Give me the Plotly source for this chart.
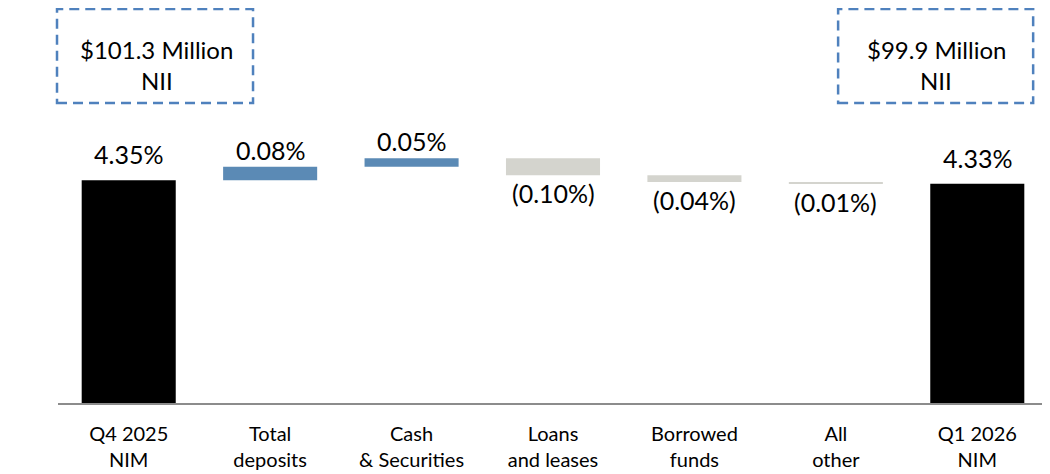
import plotly.graph_objects as go

# NIM bridge, Q4 2025 -> Q1 2026 (values in %)
categories = ["Q4 2025<br>NIM", "Total<br>deposits", "Cash<br>& Securities",
              "Loans<br>and leases", "Borrowed<br>funds", "All<br>other", "Q1 2026<br>NIM"]
measures = ["absolute", "relative", "relative", "relative", "relative", "relative", "total"]
values = [4.35, 0.08, 0.05, -0.10, -0.04, -0.01, 0]
start_nii = "$101.3 Million"
end_nii = "$99.9 Million"

FONT = "Lato"
BLUE = "#5B8AB5"
GREY = "#D4D4CE"
BOX = "#4F81BD"

fig = go.Figure(go.Waterfall(
    x=categories,
    y=values,
    measure=measures,
    increasing=dict(marker=dict(color=BLUE)),
    decreasing=dict(marker=dict(color=GREY)),
    totals=dict(marker=dict(color="black")),
    connector=dict(visible=False),
    textposition="none",
    hoverinfo="skip",
))

# value labels: above rising / total bars, below falling ones
level = 0.0
for cat, m, v in zip(categories, measures, values):
    if m == "absolute":
        level = v
        val, top, anchor, shift = v, v, "bottom", 10
    elif m == "total":
        val, top, anchor, shift = level, level, "bottom", 10
    else:
        level = level + v
        if v >= 0:
            val, top, anchor, shift = v, level, "bottom", 1
        else:
            val, top, anchor, shift = v, level, "top", -2
    txt = f"{val:.2f}%" if val >= 0 else f"({abs(val):.2f}%)"
    fig.add_annotation(x=cat, y=top, text=txt, showarrow=False, yanchor=anchor,
                       yshift=shift, borderpad=0, font=dict(size=25, color="black", family=FONT))

# dashed NII boxes
for x0, x1, xc, label in [(-0.001, 0.197, 0.0995, start_nii), (0.788, 0.985, 0.887, end_nii)]:
    fig.add_shape(type="rect", xref="paper", yref="paper", x0=x0, x1=x1, y0=0.783, y1=1.029,
                  line=dict(color=BOX, width=2.5, dash="10px,6px"), fillcolor="rgba(0,0,0,0)")
    fig.add_annotation(xref="paper", yref="paper", x=xc, y=0.9217, text=label, showarrow=False,
                       xanchor="center", yanchor="middle", borderpad=0,
                       font=dict(size=24, color="black", family=FONT))
    fig.add_annotation(xref="paper", yref="paper", x=xc, y=0.8433, text="NII", showarrow=False,
                       xanchor="center", yanchor="middle", borderpad=0,
                       font=dict(size=24, color="black", family=FONT))

# page body has an 8px margin, so the figure is 8px smaller on each side
fig.update_layout(
    width=1042, height=466,
    margin=dict(l=50, r=2, t=12, b=71),
    paper_bgcolor="white", plot_bgcolor="white",
    waterfallgap=0.335,
    showlegend=False,
    font=dict(family=FONT, color="black"),
)
fig.update_xaxes(showline=True, linecolor="#8C8C8C", linewidth=2, showgrid=False,
                 ticks="", ticklabelstandoff=12,
                 tickfont=dict(size=20, family=FONT, color="black"))
fig.update_yaxes(range=[3.04, 3.04 + 383 / 170], visible=False, showgrid=False)

fig.write_html("out.html")
